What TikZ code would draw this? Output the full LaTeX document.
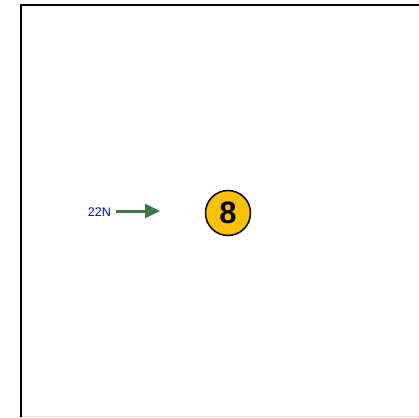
\documentclass[tikz,border=0pt]{standalone}
\usepackage{fontspec}
\setmainfont{Liberation Sans}
\usetikzlibrary{arrows.meta}
\definecolor{framegray}{RGB}{225,225,225}
\definecolor{arrowgreen}{RGB}{58,122,74}
\definecolor{badgegold}{RGB}{255,192,0}
\tikzset{
  frameline/.style={line width=2pt, black},
  badge/.style={circle, draw=black, line width=1.5pt, fill=badgegold,
    minimum size=45pt, inner sep=0pt, font=\bfseries\fontsize{31}{31}\selectfont},
  loadlabel/.style={text=blue, font=\fontsize{12.5}{12.5}\selectfont, inner sep=0pt, anchor=east},
  loadarrow/.style={draw=arrowgreen, line width=3pt, -{Triangle[length=15pt, width=14pt]}}
}
\begin{document}
\begin{tikzpicture}[x=1pt, y=-1pt]
  \useasboundingbox (0,0) rectangle (419,417);
  % frame edges
  \draw[framegray, line width=1pt] (21,416) -- (419,416);
  \draw[frameline] (21,417) -- (21,5) -- (419,5);
  % numbered marker
  \node[badge] (mark) at (228,213) {8};
  % applied load
  \node[loadlabel] (load) at (111,212) {22N};
  \coordinate (tip) at (160,211);
  \draw[loadarrow] ([xshift=5pt]load.east |- tip) -- (tip);
\end{tikzpicture}
\end{document}
